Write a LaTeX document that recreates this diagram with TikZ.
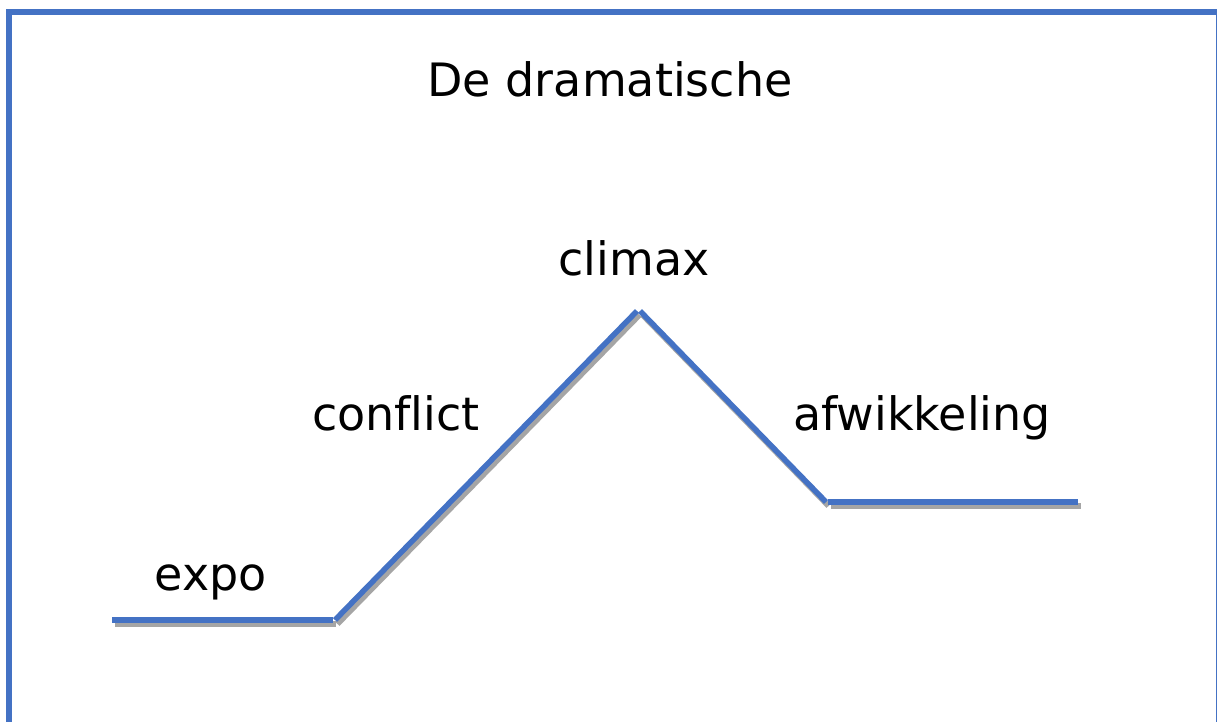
\documentclass[tikz,border=0pt]{standalone}
\usepackage{fontspec}
\setmainfont{DejaVu Sans}[Ligatures=NoCommon]
\definecolor{frameblue}{HTML}{4472C4}
\definecolor{shadowgray}{HTML}{A5A5A5}
\tikzset{
  lbl/.style={anchor=base, inner sep=0pt, font=\fontsize{46}{52}\selectfont},
  seg/.style={draw=frameblue, line width=5.5pt},
  shadowseg/.style={draw=shadowgray, line width=5.5pt},
}
\begin{document}
\begin{tikzpicture}[x=1pt,y=-1pt]
\useasboundingbox (0,0) rectangle (1217,722);
\clip (0,0) rectangle (1217,722);
\fill[white] (0,0) rectangle (1217,722);
\draw[frameblue, line width=6pt] (8.5,740) -- (8.5,12.5) -- (1219,12.5) -- (1219,740);
% titles and labels
\node[lbl] (title) at (610,97) {De dramatische};
\node[lbl] (climax) at (634,275) {climax};
\node[lbl] (conflict) at (396,430) {conflict};
\node[lbl] (afw) at (922,430) {afwikkeling};
\node[lbl] (expo) at (211,590) {expo};
% line points
\coordinate (a1) at (112,620);
\coordinate (a2) at (333,620);
\coordinate (b1) at (335,620);
\coordinate (b2) at (637,311);
\coordinate (c1) at (640,311);
\coordinate (c2) at (826,502);
\coordinate (d1) at (828,502);
\coordinate (d2) at (1078,502);
\foreach \p/\q in {a1/a2,b1/b2,c1/c2,d1/d2}{
  \draw[shadowseg] ([shift={(2.5,4)}]\p) -- ([shift={(2.5,4)}]\q);
}
\draw[seg] (a1) -- (a2);
\draw[seg] (b1) -- (b2);
\draw[seg] (c1) -- (c2);
\draw[seg] (d1) -- (d2);
\end{tikzpicture}
\end{document}
